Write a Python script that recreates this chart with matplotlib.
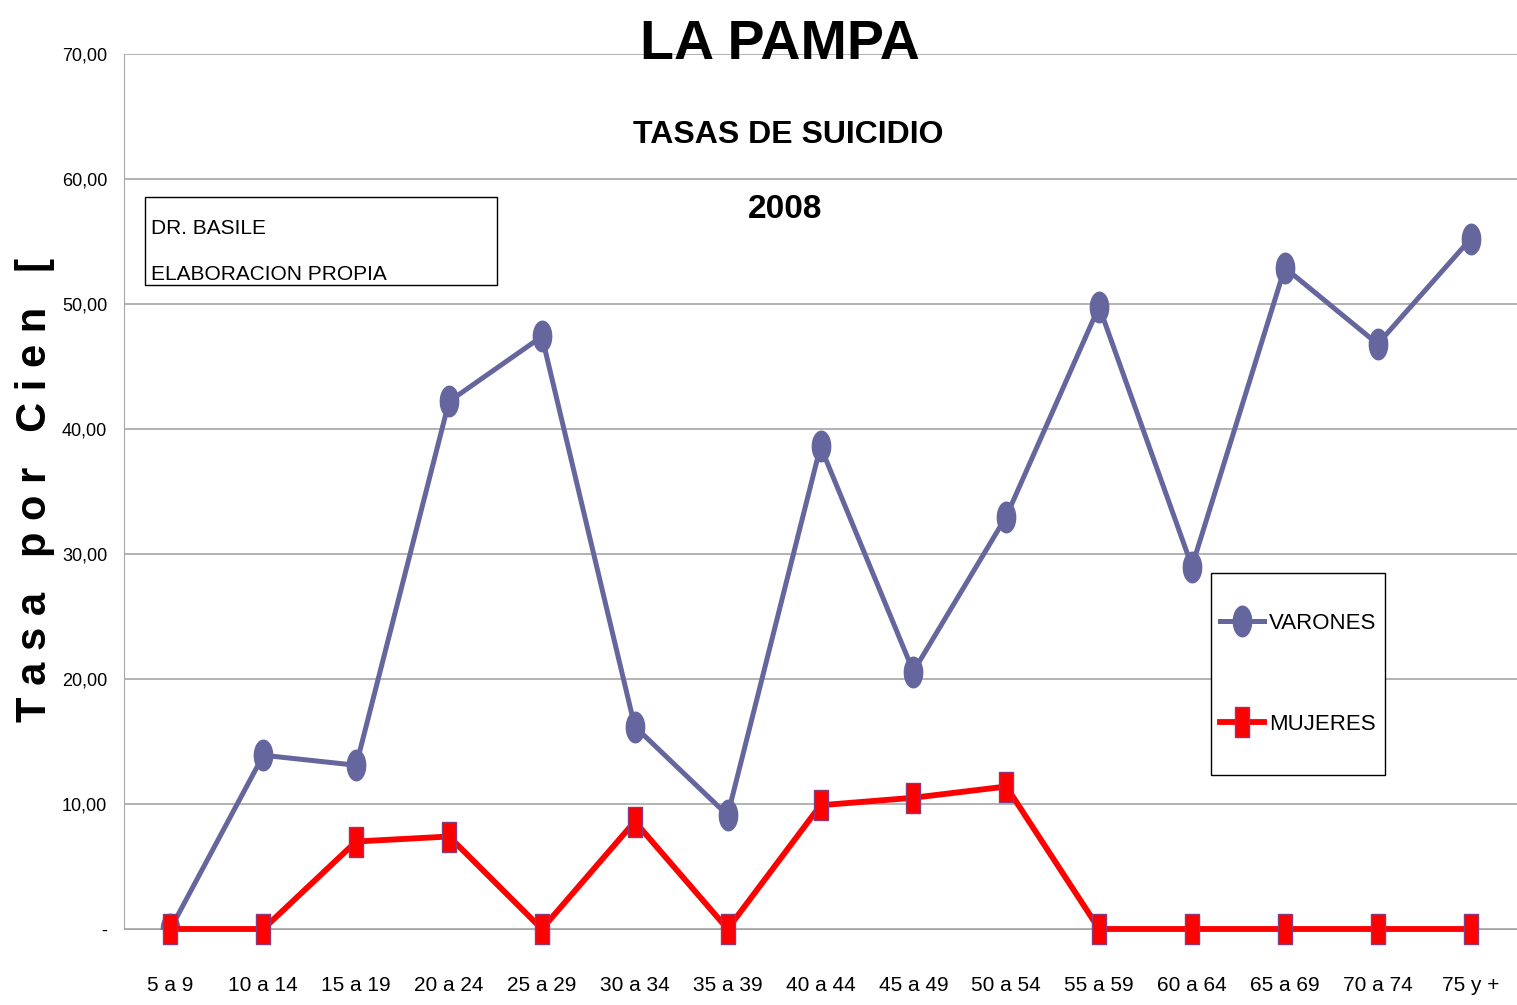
import numpy as np
import matplotlib.pyplot as plt
from matplotlib.path import Path

# Datos
edades = ['5 a 9', '10 a 14', '15 a 19', '20 a 24', '25 a 29', '30 a 34', '35 a 39',
          '40 a 44', '45 a 49', '50 a 54', '55 a 59', '60 a 64', '65 a 69', '70 a 74', '75 y +']
varones = [0.0, 13.9, 13.1, 42.2, 47.4, 16.2, 9.1, 38.6, 20.6, 33.0, 49.8, 29.0, 52.9, 46.8, 55.2]
mujeres = [0.0, 0.0, 7.0, 7.4, 0.0, 8.6, 0.0, 9.9, 10.5, 11.4, 0.0, 0.0, 0.0, 0.0, 0.0]
yticks = [0, 10, 20, 30, 40, 50, 60, 70]
ylabels = ['-', '10,00', '20,00', '30,00', '40,00', '50,00', '60,00', '70,00']

plt.rcParams['font.family'] = ['Liberation Sans', 'DejaVu Sans']

# marcadores: elipse alta y rectangulo alto
t = np.linspace(0, 2 * np.pi, 40)
elipse = Path(np.column_stack([0.6 * np.cos(t), np.sin(t)]), closed=True)
rect = Path([(-0.45, -1), (0.45, -1), (0.45, 1), (-0.45, 1), (-0.45, -1)], closed=True)

W, H = 1517, 1005
fig = plt.figure(figsize=(W / 100, H / 100), dpi=100)
ax = fig.add_axes([124 / W, 76 / H, 1393 / W, 875 / H])

x = np.arange(len(edades))
ax.plot(x, varones, color='#66669E', lw=3.6, marker=elipse, ms=22,
        mfc='#66669E', mec='#66669E', label='VARONES', zorder=3)
ax.plot(x, mujeres, color='#FF0000', lw=4.2, marker=rect, ms=22,
        mfc='#FF0000', mec='#8B3A7A', mew=1.0, label='MUJERES', zorder=4,
        clip_on=False)

ax.set_xlim(-0.5, len(edades) - 0.5)
ax.set_ylim(0, 70)
ax.set_yticks(yticks)
ax.set_yticklabels(ylabels, fontsize=13)
ax.set_xticks(x)
ax.set_xticklabels(edades, fontsize=15)
ax.tick_params(axis='x', length=0, pad=34)
ax.tick_params(axis='y', length=0, pad=12)
ax.grid(axis='y', color='#A6A6A6', lw=1.2)
ax.set_axisbelow(True)
for s in ['top', 'right']:
    ax.spines[s].set_visible(False)
ax.spines['left'].set_color('#A6A6A6')
ax.spines['bottom'].set_color('#A6A6A6')

fig.text(35 / W, 1 - 490 / H, 'T a s a   p o r   C i e n   [', rotation=90,
         ha='center', va='center', fontsize=30, fontweight='bold')

fig.text(780 / W, 1 - 45 / H, 'LA PAMPA', ha='center', va='center',
         fontsize=40, fontweight='bold')
fig.text(788 / W, 1 - 135 / H, 'TASAS DE SUICIDIO', ha='center', va='center',
         fontsize=23, fontweight='bold')
fig.text(785 / W, 1 - 210 / H, '2008', ha='center', va='center',
         fontsize=24, fontweight='bold')

# recuadro autor
fig.patches.append(plt.Rectangle((145 / W, 1 - 285 / H), 352 / W, 88 / H,
                                 transform=fig.transFigure, fill=False, ec='black', lw=1))
fig.text(151 / W, 1 - 228 / H, 'DR. BASILE', va='center', fontsize=15)
fig.text(151 / W, 1 - 274 / H, 'ELABORACION PROPIA', va='center', fontsize=15)

# leyenda con marco propio
ax.add_patch(plt.Rectangle((1211 / W, 1 - 775 / H), 174 / W, 202 / H,
                           transform=fig.transFigure, fc='white', ec='black',
                           lw=1, zorder=5, clip_on=False))
leg = ax.legend(loc='center', bbox_to_anchor=(1298 / W, 1 - 674 / H),
                bbox_transform=fig.transFigure, fontsize=16, frameon=False,
                labelspacing=3.6, handlelength=2.0, handletextpad=0.2)
leg.set_zorder(6)

fig.savefig('out.png', dpi=100)
